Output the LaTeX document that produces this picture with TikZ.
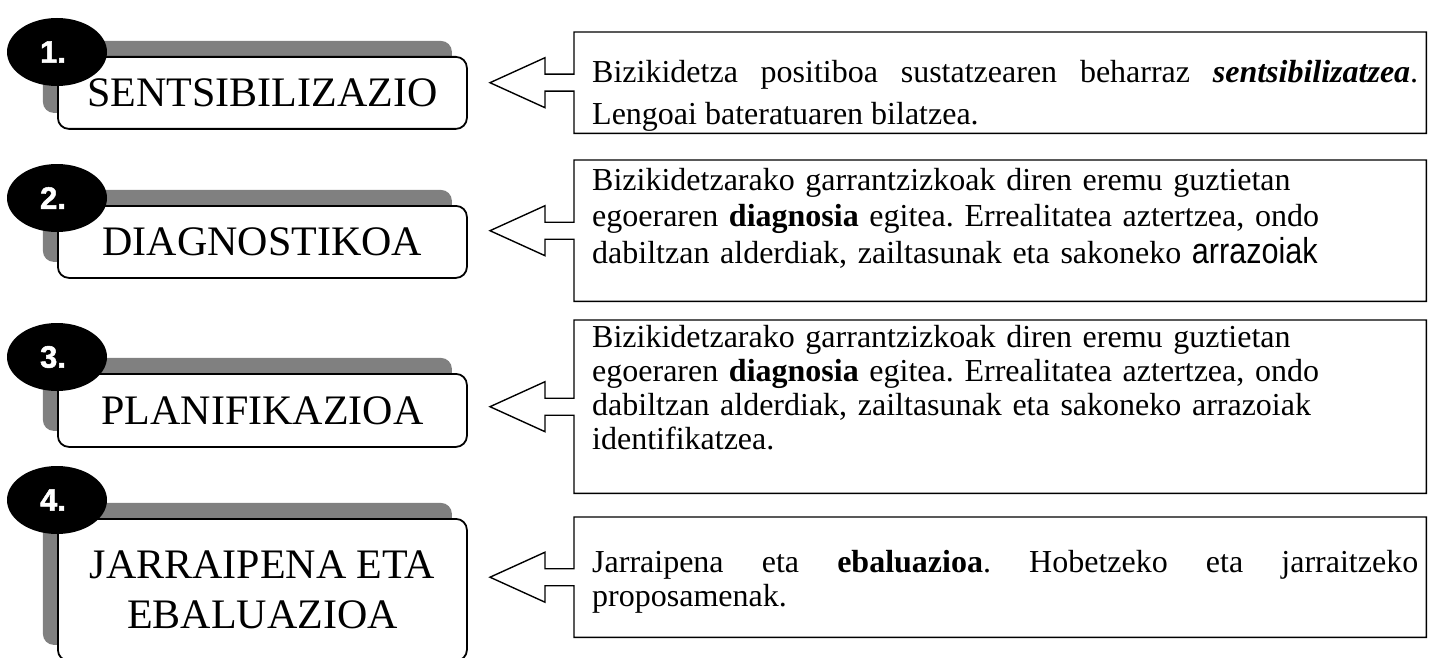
\documentclass[tikz,border=0pt]{standalone}
\usepackage{fontspec}
\setmainfont{Liberation Serif}
\setsansfont{Liberation Sans}
\newfontfamily\narrowsans[FakeStretch=0.85]{Liberation Sans}
\newfontfamily\badgefont[BoldFeatures={FakeBold=1.6}]{Liberation Sans}
\usetikzlibrary{shapes.geometric,shadows}
\frenchspacing

\tikzset{
  stage/.style={draw=black, line width=1.8pt, rounded corners=11pt, fill=white,
    minimum width=409pt, anchor=north west, align=center, inner sep=0pt,
    font=\fontsize{42}{50}\selectfont,
    drop shadow={shadow xshift=-15pt, shadow yshift=16pt, fill=black!50, opacity=1}},
  badge/.style={ellipse, fill=black, minimum width=100pt, minimum height=68pt,
    text=white, font=\badgefont\bfseries\fontsize{31}{31}\selectfont},
  notebox/.style={minimum width=852pt, anchor=north west, inner sep=0pt},
  notetext/.style={anchor=north west, text width=826pt, inner sep=0pt},
  outline/.style={line width=1.4pt, line join=miter}
}

% box with the arrow on its left side
\newcommand{\arrowbox}[1]{%
  \draw[outline] (#1.south west) -- ([shift={(0,8.5)}]#1.west) -- ++(-29,0) -- ++(0,16.5)
    -- ([shift={(-84,0)}]#1.west) -- ([shift={(-29,-25)}]#1.west) -- ++(0,16.5)
    -- ([shift={(0,-8.5)}]#1.west) -- (#1.north west) -- (#1.north east)
    -- (#1.south east) -- cycle;}

\begin{document}
\begin{tikzpicture}[x=1pt, y=-1pt]
  \useasboundingbox (0,0) rectangle (1434,658);

  % stages
  \path (57,56) node[stage, minimum height=72pt] (s1) {SENTSIBILIZAZIO};
  \path (57,205) node[stage, minimum height=72pt] (s2) {DIAGNOSTIKOA};
  \path (57,373) node[stage, minimum height=73pt] (s3) {PLANIFIKAZIOA};
  \path (57,518) node[stage, minimum height=142pt] (s4) {JARRAIPENA ETA\\EBALUAZIOA};

  \foreach \i/\dy in {1/-4, 2/-7, 3/-16, 4/-18}
    \path ([shift={(0,\dy)}]s\i.north west) node[badge] (b\i) {\hspace*{-8pt}\i.};

  % notes
  \path (574,32) node[notebox, minimum height=101pt] (n1) {};
  \path (574,160) node[notebox, minimum height=141pt] (n2) {};
  \path (574,320) node[notebox, minimum height=173pt] (n3) {};
  \path (574,517) node[notebox, minimum height=120pt] (n4) {};

  \foreach \i in {1,...,4}{
    \arrowbox{n\i}
  }

  \path ([shift={(18,28)}]n1.north west) node[notetext, align=justify,
      font=\fontsize{32}{42}\selectfont] (t1)
    {Bizikidetza positiboa sustatzearen beharraz \textbf{\textit{sentsibilizatzea}}.\linebreak
     Lengoai bateratuaren bilatzea.};
  \path ([shift={(18,8)}]n2.north west) node[notetext, align=left,
      font=\fontsize{32}{36.5}\selectfont] (t2)
    {Bizikidetzarako garrantzizkoak diren eremu guztietan\\
     egoeraren \textbf{diagnosia} egitea. Errealitatea aztertzea, ondo\\
     dabiltzan alderdiak, zailtasunak eta sakoneko {\narrowsans\fontsize{36}{36.5}\selectfont arrazoiak}};
  \path ([shift={(18,5)}]n3.north west) node[notetext, align=left,
      font=\fontsize{32}{34}\selectfont] (t3)
    {Bizikidetzarako garrantzizkoak diren eremu guztietan\\
     egoeraren \textbf{diagnosia} egitea. Errealitatea aztertzea, ondo\\
     dabiltzan alderdiak, zailtasunak eta sakoneko arrazoiak\\
     identifikatzea.};
  \path ([shift={(18,33)}]n4.north west) node[notetext, align=justify,
      font=\fontsize{32}{34}\selectfont] (t4)
    {Jarraipena eta \textbf{ebaluazioa}. Hobetzeko eta jarraitzeko\linebreak
     proposamenak.};
\end{tikzpicture}
\end{document}
